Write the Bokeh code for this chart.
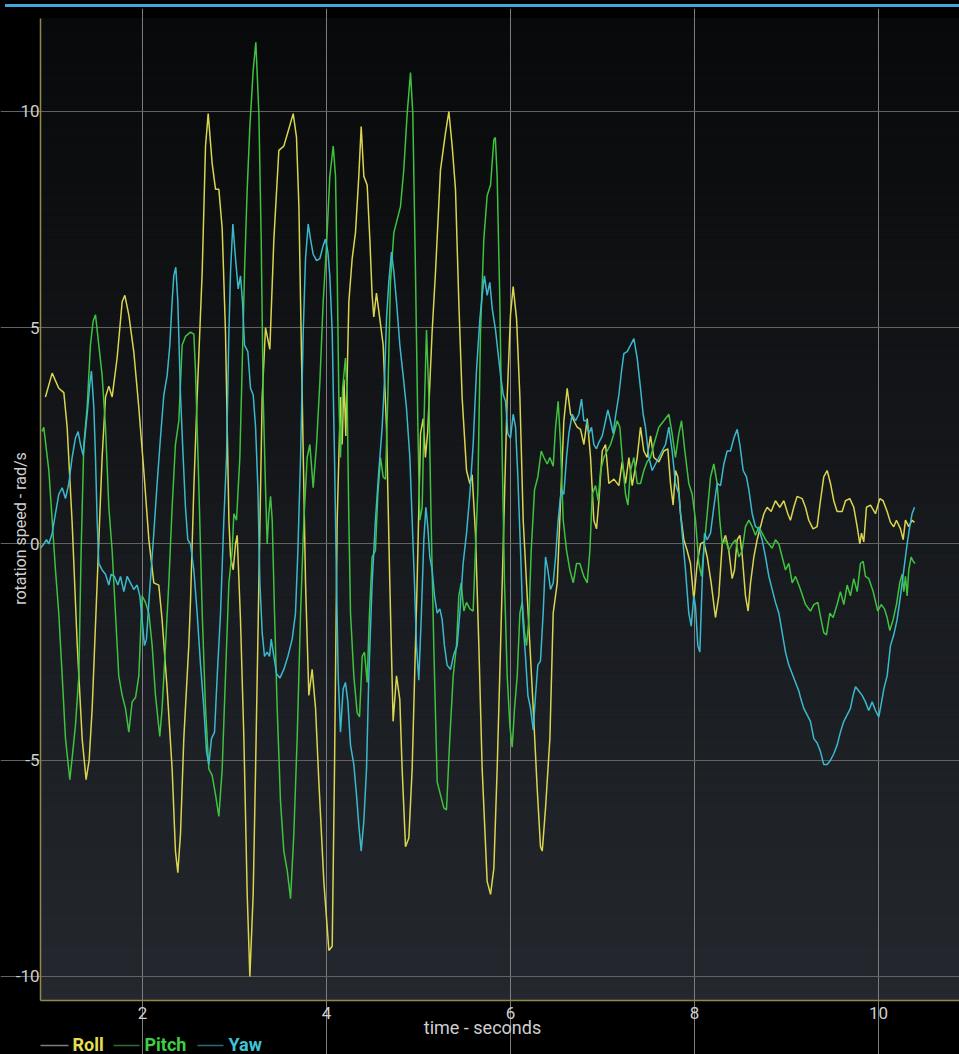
from bokeh.plotting import figure
from bokeh.models import Range1d, FixedTicker, Label, Div, LinearAxis
from bokeh.layouts import column
from bokeh.embed import file_html
from bokeh.resources import INLINE

# ---------------- data ----------------
series_names = ["Roll", "Pitch", "Yaw"]
x_ticks = [2, 4, 6, 8, 10]
y_ticks = [-10, -5, 0, 5, 10]
y_tick_labels = ["-10", "-5", "0", "5", "10"]
x_title = "time - seconds"
y_title = "rotation speed - rad/s"

roll_t = [0.945, 1.018, 1.09, 1.145, 1.181, 1.235, 1.29, 1.344, 1.387, 1.42, 1.453, 1.507, 1.561, 1.598, 1.634, 1.67,
          1.724, 1.779, 1.808, 1.851, 1.905, 1.96, 2.014, 2.069, 2.123, 2.177, 2.213, 2.268, 2.322, 2.358, 2.384, 2.413,
          2.449, 2.503, 2.522, 2.558, 2.594, 2.649, 2.685, 2.714, 2.757, 2.794, 2.83, 2.866, 2.902, 2.939, 2.957, 2.986,
          3.011, 3.029, 3.065, 3.102, 3.138, 3.167, 3.203, 3.229, 3.265, 3.301, 3.337, 3.384, 3.428, 3.482, 3.536, 3.591,
          3.638, 3.674, 3.7, 3.736, 3.772, 3.808, 3.844, 3.881, 3.917, 3.971, 4.026, 4.062, 4.087, 4.116, 4.152, 4.17,
          4.19, 4.21, 4.243, 4.279, 4.315, 4.351, 4.377, 4.406, 4.442, 4.471, 4.496, 4.514, 4.543, 4.58, 4.616, 4.652,
          4.688, 4.724, 4.761, 4.797, 4.822, 4.859, 4.895, 4.931, 4.985, 5.022, 5.051, 5.075, 5.1, 5.148, 5.185, 5.239,
          5.293, 5.33, 5.366, 5.402, 5.438, 5.474, 5.522, 5.558, 5.583, 5.619, 5.656, 5.692, 5.746, 5.783, 5.819, 5.855,
          5.892, 5.928, 5.964, 6.0, 6.029, 6.066, 6.102, 6.138, 6.174, 6.211, 6.247, 6.29, 6.326, 6.345, 6.381, 6.428,
          6.464, 6.508, 6.544, 6.58, 6.616, 6.653, 6.689, 6.725, 6.761, 6.798, 6.834, 6.87, 6.906, 6.935, 6.961, 6.997,
          7.033, 7.069, 7.124, 7.178, 7.214, 7.25, 7.287, 7.323, 7.377, 7.413, 7.449, 7.485, 7.522, 7.558, 7.612, 7.667,
          7.71, 7.739, 7.768, 7.793, 7.819, 7.848, 7.884, 7.92, 7.956, 7.993, 8.029, 8.065, 8.101, 8.138, 8.181, 8.228,
          8.264, 8.301, 8.337, 8.373, 8.409, 8.435, 8.464, 8.493, 8.518, 8.554, 8.583, 8.609, 8.645, 8.681, 8.717, 8.754,
          8.79, 8.833, 8.88, 8.927, 8.971, 9.014, 9.043, 9.079, 9.115, 9.17, 9.206, 9.242, 9.289, 9.333, 9.369, 9.405,
          9.442, 9.478, 9.514, 9.55, 9.605, 9.641, 9.688, 9.731, 9.768, 9.797, 9.815, 9.84, 9.869, 9.913, 9.967, 10.014,
          10.05, 10.094, 10.13, 10.166, 10.195, 10.239, 10.268, 10.293, 10.329, 10.365, 10.391]
roll_v = [3.4, 3.95, 3.6, 3.5, 2.7, 0.5, -2.3, -4.5, -5.45, -5.0, -3.8, -0.9, 2.0, 3.4, 3.65, 3.4,
          4.3, 5.6, 5.75, 5.3, 4.45, 3.15, 1.7, 0.1, -0.9, -0.95, -1.75, -3.35, -5.2, -7.1, -7.6, -6.7,
          -4.5, -2.35, -1.3, 1.3, 3.4, 6.3, 9.2, 9.95, 8.8, 8.2, 8.2, 7.3, 4.9, 0.55, -0.3, -0.6,
          0.0, 0.2, -1.75, -4.5, -8.1, -10.0, -8.1, -5.2, -0.9, 3.4, 5.0, 4.5, 7.05, 9.1, 9.2, 9.6,
          9.95, 9.4, 7.8, 3.4, -0.9, -3.5, -2.9, -3.8, -5.5, -7.8, -9.4, -9.3, -5.2, 0.55, 3.4, 2.3,
          3.8, 2.5, 5.6, 6.6, 7.2, 8.5, 9.65, 8.5, 8.3, 7.05, 5.75, 5.25, 5.8, 5.2, 4.6, 2.7,
          -0.9, -4.1, -3.05, -3.6, -5.2, -7.0, -6.8, -5.2, -0.9, 2.55, 2.9, 2.0, 2.6, 4.9, 6.3, 8.65,
          9.5, 10.0, 9.2, 8.2, 5.6, 3.4, 1.7, 1.4, 1.6, 0.25, -2.35, -5.2, -7.8, -8.1, -7.5, -5.2,
          -2.35, 0.55, 3.4, 5.3, 5.95, 5.2, 3.4, 0.55, -0.9, -2.35, -3.8, -5.65, -7.0, -7.1, -6.1, -4.5,
          -1.6, -0.9, 1.0, 2.85, 3.6, 3.0, 2.85, 2.7, 2.65, 2.3, 2.9, 2.0, 0.55, 0.35, 1.0, 2.15,
          2.3, 1.4, 1.5, 1.35, 1.9, 1.4, 2.0, 1.35, 2.0, 2.7, 2.15, 2.0, 2.5, 2.0, 1.9, 2.15,
          2.2, 1.4, 0.9, 1.7, 1.55, 0.7, 0.1, -0.15, -0.45, -1.3, -0.45, 0.0, 0.05, -0.3, -0.9, -1.7,
          -1.2, 0.0, 0.2, -0.15, -0.8, -0.6, 0.1, 0.2, -0.25, -1.2, -1.55, -0.9, -0.3, 0.1, 0.4, 0.7,
          0.85, 0.75, 1.0, 0.85, 1.0, 0.7, 0.55, 0.85, 1.1, 1.05, 0.85, 0.55, 0.35, 0.4, 1.0, 1.55,
          1.7, 1.4, 1.0, 0.75, 0.75, 1.0, 1.05, 0.85, 0.4, 0.0, 0.25, 0.05, 0.85, 0.9, 0.7, 1.05,
          1.0, 0.75, 0.5, 0.4, 0.55, 0.35, 0.1, 0.55, 0.4, 0.55, 0.5]

pitch_t = [0.909, 0.927, 0.982, 1.018, 1.054, 1.09, 1.127, 1.163, 1.21, 1.235, 1.271, 1.308, 1.333, 1.362, 1.398, 1.434,
           1.463, 1.489, 1.525, 1.561, 1.598, 1.634, 1.67, 1.706, 1.742, 1.779, 1.815, 1.851, 1.887, 1.924, 1.96, 1.996,
           2.032, 2.069, 2.105, 2.141, 2.188, 2.213, 2.25, 2.286, 2.322, 2.358, 2.395, 2.431, 2.467, 2.521, 2.558, 2.576,
           2.613, 2.649, 2.685, 2.721, 2.757, 2.794, 2.83, 2.866, 2.902, 2.939, 2.975, 2.993, 3.022, 3.058, 3.084, 3.109,
           3.138, 3.167, 3.203, 3.232, 3.265, 3.29, 3.312, 3.337, 3.355, 3.373, 3.392, 3.41, 3.435, 3.464, 3.5, 3.536,
           3.573, 3.609, 3.645, 3.681, 3.718, 3.754, 3.79, 3.819, 3.855, 3.892, 3.928, 3.964, 4.0, 4.036, 4.073, 4.098,
           4.116, 4.134, 4.152, 4.175, 4.206, 4.224, 4.243, 4.261, 4.297, 4.333, 4.359, 4.388, 4.413, 4.442, 4.467, 4.496,
           4.532, 4.558, 4.587, 4.616, 4.641, 4.667, 4.695, 4.732, 4.768, 4.804, 4.84, 4.877, 4.913, 4.938, 4.967, 4.993,
           5.014, 5.04, 5.058, 5.087, 5.112, 5.137, 5.166, 5.203, 5.239, 5.275, 5.304, 5.34, 5.377, 5.413, 5.438, 5.464,
           5.493, 5.522, 5.558, 5.594, 5.619, 5.645, 5.674, 5.71, 5.746, 5.783, 5.819, 5.835, 5.855, 5.884, 5.91, 5.935,
           5.964, 5.993, 6.018, 6.044, 6.073, 6.102, 6.127, 6.153, 6.174, 6.2, 6.225, 6.261, 6.297, 6.334, 6.363, 6.399,
           6.428, 6.464, 6.49, 6.518, 6.544, 6.573, 6.609, 6.645, 6.682, 6.718, 6.754, 6.797, 6.834, 6.863, 6.888, 6.924,
           6.953, 6.979, 7.015, 7.051, 7.087, 7.124, 7.16, 7.189, 7.214, 7.25, 7.276, 7.305, 7.341, 7.377, 7.413, 7.449,
           7.485, 7.522, 7.558, 7.612, 7.667, 7.721, 7.757, 7.793, 7.83, 7.859, 7.895, 7.938, 7.975, 8.011, 8.047, 8.076,
           8.101, 8.138, 8.174, 8.21, 8.246, 8.275, 8.301, 8.337, 8.373, 8.409, 8.446, 8.482, 8.518, 8.554, 8.591, 8.627,
           8.663, 8.699, 8.735, 8.772, 8.808, 8.844, 8.88, 8.917, 8.953, 8.989, 9.025, 9.062, 9.098, 9.134, 9.152, 9.206,
           9.26, 9.297, 9.34, 9.376, 9.405, 9.434, 9.471, 9.507, 9.55, 9.586, 9.623, 9.659, 9.695, 9.731, 9.768, 9.804,
           9.833, 9.858, 9.894, 9.942, 9.992, 10.029, 10.065, 10.094, 10.123, 10.159, 10.195, 10.231, 10.257, 10.275,
           10.293, 10.311, 10.329, 10.355, 10.376, 10.398]
pitch_v = [2.6, 2.7, 1.7, 0.55, -0.6, -1.6, -3.05, -4.5, -5.45, -4.95, -4.2, -3.05, -0.15, 2.3, 3.15, 4.6,
           5.15, 5.3, 4.6, 3.9, 2.7, 0.85, -0.15, -1.6, -3.05, -3.5, -3.8, -4.35, -3.65, -3.55, -3.05, -1.2,
           -1.35, -1.6, -2.35, -3.5, -4.45, -3.8, -2.35, -0.9, 0.85, 2.3, 2.85, 4.6, 4.8, 4.9, 4.85, 4.0,
           1.3, -1.6, -3.8, -5.2, -5.35, -5.8, -6.3, -5.2, -3.05, -0.9, -0.15, 0.7, 0.55, 2.0, 4.15, 6.3,
           8.2, 9.65, 10.95, 11.6, 9.95, 7.05, 3.4, 1.3, 0.0, 0.7, 1.1, 0.55, -1.6, -3.8, -5.95, -7.1,
           -7.55, -8.2, -6.7, -4.5, -1.6, 0.55, 2.0, 2.3, 1.3, 2.3, 3.75, 5.6, 6.9, 8.5, 9.2, 8.5,
           6.3, 3.4, 2.0, 3.6, 4.3, 3.45, 0.55, -1.6, -3.05, -3.9, -4.0, -2.6, -2.5, -3.2, -1.6, -0.3,
           -0.15, 1.15, 2.0, 1.55, 1.5, 3.45, 6.05, 7.2, 7.5, 7.8, 8.65, 9.95, 10.9, 9.95, 6.3, 2.7,
           0.55, 0.85, 2.7, 4.95, 3.45, 0.55, -2.35, -5.5, -5.8, -6.1, -6.15, -4.5, -3.05, -2.35, -1.2, -0.9,
           -1.55, -1.35, -1.5, -1.55, -0.15, 1.25, 4.9, 7.05, 8.05, 8.3, 9.35, 9.4, 8.5, 5.6, 2.0, -0.9,
           -3.05, -4.2, -4.7, -3.8, -3.05, -1.6, -1.35, -2.05, -2.35, -1.75, -0.15, 1.25, 1.55, 2.15, 2.0, 1.85,
           2.0, 1.8, 2.7, 3.3, 2.3, 0.55, -0.15, -0.6, -0.9, -0.45, -0.45, -0.75, -0.9, -0.15, 1.15, 1.35,
           1.0, 1.7, 2.0, 2.15, 2.3, 2.55, 2.85, 2.7, 2.0, 1.15, 0.9, 1.7, 2.0, 1.4, 1.4, 1.7,
           1.9, 2.0, 2.3, 2.7, 2.85, 3.0, 2.55, 2.0, 2.55, 2.85, 2.15, 1.4, 1.15, 0.55, -0.45, -0.75,
           -0.15, 0.7, 1.55, 1.85, 1.4, 0.55, 0.0, 0.1, -0.15, 0.0, 0.1, -0.3, -0.15, 0.4, 0.55, 0.4,
           0.2, 0.4, 0.25, 0.1, 0.0, -0.1, 0.1, 0.0, -0.3, -0.6, -0.45, -0.9, -0.75, -0.95, -1.05, -1.4,
           -1.55, -1.4, -1.35, -1.75, -2.05, -2.1, -1.6, -1.7, -1.4, -1.1, -1.4, -0.95, -1.2, -0.8, -1.1, -0.45,
           -0.4, -0.75, -0.8, -1.1, -1.55, -1.4, -1.5, -1.7, -2.0, -1.75, -1.4, -0.9, -0.7, -1.1,
           -0.75, -1.2, -0.6, -0.3, -0.4, -0.45]

yaw_t = [0.891, 0.927, 0.956, 0.982, 1.018, 1.054, 1.09, 1.127, 1.163, 1.199, 1.235, 1.271, 1.3, 1.326, 1.355, 1.38,
         1.405, 1.427, 1.445, 1.471, 1.489, 1.507, 1.525, 1.561, 1.598, 1.634, 1.659, 1.695, 1.732, 1.761, 1.797, 1.833,
         1.869, 1.905, 1.942, 1.971, 1.996, 2.021, 2.043, 2.069, 2.094, 2.123, 2.159, 2.195, 2.232, 2.268, 2.297, 2.322,
         2.34, 2.362, 2.384, 2.413, 2.442, 2.467, 2.492, 2.521, 2.558, 2.594, 2.631, 2.667, 2.696, 2.721, 2.75, 2.783,
         2.812, 2.848, 2.884, 2.913, 2.939, 2.957, 2.982, 3.011, 3.04, 3.065, 3.087, 3.109, 3.145, 3.174, 3.203, 3.229,
         3.254, 3.276, 3.301, 3.326, 3.355, 3.381, 3.399, 3.428, 3.457, 3.493, 3.536, 3.58, 3.627, 3.663, 3.689, 3.718,
         3.747, 3.772, 3.801, 3.826, 3.855, 3.892, 3.928, 3.964, 3.989, 4.015, 4.036, 4.062, 4.087, 4.109, 4.127, 4.152,
         4.181, 4.206, 4.232, 4.261, 4.297, 4.326, 4.351, 4.377, 4.406, 4.435, 4.46, 4.496, 4.532, 4.569, 4.605, 4.63,
         4.652, 4.677, 4.706, 4.732, 4.761, 4.797, 4.833, 4.869, 4.906, 4.931, 4.956, 4.978, 5.003, 5.029, 5.058, 5.08,
         5.101, 5.123, 5.148, 5.174, 5.203, 5.232, 5.257, 5.282, 5.311, 5.348, 5.384, 5.42, 5.449, 5.485, 5.522, 5.558,
         5.594, 5.63, 5.667, 5.692, 5.717, 5.746, 5.775, 5.801, 5.837, 5.863, 5.892, 5.921, 5.946, 5.971, 6.0, 6.029,
         6.055, 6.08, 6.109, 6.134, 6.163, 6.189, 6.218, 6.247, 6.272, 6.297, 6.326, 6.355, 6.381, 6.406, 6.435, 6.464,
         6.49, 6.518, 6.551, 6.58, 6.609, 6.634, 6.671, 6.707, 6.743, 6.772, 6.797, 6.826, 6.852, 6.881, 6.906, 6.935,
         6.961, 6.997, 7.033, 7.058, 7.087, 7.116, 7.145, 7.178, 7.207, 7.232, 7.268, 7.305, 7.341, 7.377, 7.413, 7.442,
         7.467, 7.504, 7.54, 7.576, 7.612, 7.648, 7.685, 7.721, 7.757, 7.793, 7.83, 7.866, 7.902, 7.938, 7.964, 7.993,
         8.011, 8.036, 8.058, 8.083, 8.109, 8.138, 8.174, 8.21, 8.246, 8.283, 8.319, 8.355, 8.391, 8.428, 8.464, 8.493,
         8.529, 8.565, 8.591, 8.627, 8.663, 8.699, 8.735, 8.772, 8.808, 8.844, 8.88, 8.917, 8.953, 8.989, 9.025, 9.062,
         9.098, 9.134, 9.152, 9.188, 9.224, 9.26, 9.297, 9.333, 9.369, 9.405, 9.442, 9.478, 9.514, 9.55, 9.586, 9.623,
         9.659, 9.695, 9.724, 9.75, 9.786, 9.822, 9.858, 9.894, 9.931, 9.967, 10.003, 10.029, 10.058, 10.094, 10.13,
         10.166, 10.202, 10.239, 10.275, 10.311, 10.34, 10.365, 10.391]
yaw_v = [-0.1, 0.0, 0.1, 0.0, 0.25, 0.7, 1.15, 1.3, 1.05, 1.4, 2.0, 2.45, 2.6, 2.3, 2.05, 2.6,
         3.15, 3.7, 4.0, 3.15, 2.0, 0.55, -0.45, -0.6, -0.7, -0.95, -0.7, -0.75, -0.95, -0.75, -1.1, -0.75,
         -0.9, -1.05, -0.95, -1.2, -1.75, -2.35, -2.2, -1.35, -0.6, 0.25, 1.4, 2.45, 3.45, 3.9, 4.6, 5.6,
         6.2, 6.4, 5.6, 3.45, 2.0, 0.85, 0.1, 0.0, -0.6, -1.6, -2.8, -3.8, -4.8, -5.1, -4.5, -4.35,
         -3.05, -1.6, 0.55, 2.0, 4.9, 6.3, 7.4, 6.6, 5.9, 6.2, 5.6, 4.6, 4.45, 3.6, 3.45, 2.7,
         1.3, -0.9, -2.05, -2.6, -2.5, -2.6, -2.2, -2.6, -3.0, -3.1, -2.9, -2.6, -2.2, -1.6, -0.15, 2.0,
         4.9, 6.6, 7.4, 7.05, 6.7, 6.55, 6.6, 6.9, 7.05, 6.75, 6.2, 4.9, 2.0, -0.9, -3.05, -4.35,
         -3.35, -3.2, -3.65, -4.65, -5.1, -5.8, -6.5, -7.1, -6.4, -5.2, -3.05, -0.9, 0.55, 1.7, 2.7, 3.75,
         5.2, 6.05, 6.75, 6.3, 5.6, 4.6, 3.9, 3.15, 2.0, 0.55, -0.9, -2.35, -3.15, -1.75, 0.1, 0.85,
         0.4, -0.3, -0.6, -1.2, -1.6, -1.5, -1.75, -2.35, -2.8, -2.9, -2.55, -2.35, -1.6, -0.45, 0.25, 1.15,
         2.3, 4.0, 5.2, 5.75, 6.2, 5.75, 6.05, 5.45, 4.95, 4.45, 3.9, 3.45, 3.3, 2.55, 2.45, 3.0,
         2.7, 1.55, -0.15, -1.75, -2.6, -3.5, -3.8, -4.3, -3.5, -2.8, -2.7, -1.6, -0.3, -0.6, -1.05, -0.9,
         -0.3, 0.55, 1.25, 1.15, 2.0, 2.55, 3.0, 2.85, 3.0, 3.35, 2.85, 2.85, 2.55, 2.7, 2.3, 2.2,
         2.35, 2.5, 2.85, 3.1, 2.85, 2.55, 3.0, 3.45, 4.0, 4.4, 4.45, 4.6, 4.75, 4.3, 3.6, 3.0,
         2.7, 2.0, 1.7, 1.85, 2.0, 2.15, 2.3, 2.7, 2.15, 1.4, 1.15, 0.25, -0.6, -1.6, -1.9, -1.2,
         -1.45, -2.35, -2.5, -0.9, 0.25, 0.1, 0.25, 0.85, 1.4, 1.35, 1.85, 2.15, 2.15, 2.45, 2.65, 2.3,
         1.7, 1.55, 1.25, 0.7, 0.4, 0.35, 0.1, -0.3, -0.75, -1.05, -1.35, -1.6, -2.05, -2.5, -2.8, -3.0,
         -3.2, -3.4, -3.55, -3.8, -3.95, -4.1, -4.5, -4.6, -4.8, -5.1, -5.1, -5.0, -4.85, -4.65, -4.35, -4.1,
         -3.95, -3.8, -3.5, -3.3, -3.4, -3.5, -3.65, -3.85, -3.65, -3.85, -4.0, -3.7, -3.35, -3.05, -2.35,
         -2.1, -1.75, -1.2, -0.6, 0.0, 0.4, 0.7, 0.85]

# ---------------- styling / layout ----------------
LINE_COLORS = ["#d9d54e", "#3fc23f", "#3bb9cc"]
LEGEND_TEXT_COLORS = ["#e4de50", "#3ecf45", "#3ec4d6"]
LEGEND_DASH_COLORS = ["#7e7e7e", "#2f6e34", "#2e6a78"]
TEXT_COLOR = "#cfcfcf"
FONT = "Roboto"

TOP_BAR_H = 8            # black strip + thin blue bar above the chart
FIG_W, FIG_H = 959, 1046

# data ranges spanning the whole canvas (the frame fills the figure)
X_LO, X_HI = 0.4565, 10.8804
Y_LO, Y_HI = -11.8035, 12.3815


def X(page_px):
    return X_LO + page_px * (X_HI - X_LO) / FIG_W


def Y(page_py):
    return Y_HI - (page_py - TOP_BAR_H) * (Y_HI - Y_LO) / FIG_H


# plotting area edges in page pixels
PL, PT, PB = 40, 18, 1000
XL, YT, YB = X(PL), Y(PT), Y(PB)

p = figure(width=FIG_W, height=FIG_H, output_backend="svg", toolbar_location=None,
           x_range=Range1d(X_LO, X_HI), y_range=Range1d(Y_LO, Y_HI),
           x_axis_location=None, y_axis_location=None,
           min_border=0, min_border_left=0, min_border_right=0,
           min_border_top=0, min_border_bottom=0,
           background_fill_color="#000000", border_fill_color="#000000",
           outline_line_color=None)

# vertical gradient background of the plotting area
n_bands = 90
top_rgb = (8, 9, 10)
bot_rgb = (36, 40, 46)
bands_b, bands_t, bands_c = [], [], []
for i in range(n_bands):
    b = YB + (YT - YB) * i / n_bands
    t = YB + (YT - YB) * (i + 1) / n_bands
    f = (i + 0.5) / n_bands
    rgb = tuple(int(round(bot_rgb[k] + (top_rgb[k] - bot_rgb[k]) * f)) for k in range(3))
    bands_b.append(b)
    bands_t.append(t)
    bands_c.append("#%02x%02x%02x" % rgb)
bg = p.quad(left=XL, right=X_HI, bottom=bands_b, top=bands_t, fill_color=bands_c,
            line_color=bands_c, line_width=1)
bg.level = "image"

# grid
p.xgrid.ticker = FixedTicker(ticks=x_ticks)
p.ygrid.ticker = FixedTicker(ticks=y_ticks)
p.xgrid.bounds = (Y(1006), YT)
p.ygrid.bounds = (XL, X_HI)
p.xgrid.grid_line_color = "#7c7c7c"
p.ygrid.grid_line_color = "#626262"
p.xgrid.grid_line_width = 1
p.ygrid.grid_line_width = 1

# axes fixed at the plotting area's edges
xaxis = LinearAxis(fixed_location=YB, ticker=FixedTicker(ticks=x_ticks), bounds=(XL, X_HI))
xaxis.axis_line_color = "#8f8a48"
xaxis.axis_line_width = 1.5
xaxis.major_tick_line_color = "#7c7c7c"
xaxis.major_tick_out = 6
xaxis.major_tick_in = 0
xaxis.minor_tick_line_color = None
xaxis.major_label_text_color = TEXT_COLOR
xaxis.major_label_text_font = FONT
xaxis.major_label_text_font_size = "17px"
xaxis.major_label_standoff = 0
p.add_layout(xaxis, "below")

yaxis = LinearAxis(fixed_location=XL, ticker=FixedTicker(ticks=[]), bounds=(YB, YT))
yaxis.axis_line_color = "#8f8a48"
yaxis.axis_line_width = 1.5
yaxis.major_tick_line_color = None
yaxis.minor_tick_line_color = None
p.add_layout(yaxis, "left")

# series
for name, tt, vv, col in zip(series_names, [roll_t, pitch_t, yaw_t], [roll_v, pitch_v, yaw_v], LINE_COLORS):
    p.line(tt, vv, line_color=col, line_width=1.5)

# y tick labels sitting on top of their grid lines
for tv, lbl in zip(y_ticks, y_tick_labels):
    p.add_layout(Label(x=X(39), y=tv, text=lbl, text_align="right",
                       text_baseline="alphabetic", text_color=TEXT_COLOR,
                       text_font=FONT, text_font_size="17px"))

# axis titles
p.add_layout(Label(x=X(482), y=Y(1027), text=x_title, text_align="center",
                   text_baseline="middle", text_color=TEXT_COLOR, text_font=FONT,
                   text_font_size="18px"))
p.add_layout(Label(x=X(20), y=Y(528), text=y_title, angle=1.5708, text_align="center",
                   text_baseline="middle", text_color=TEXT_COLOR, text_font=FONT,
                   text_font_size="16px"))

# legend: dim dash + coloured name
dash_px = [(40, 68), (113, 139), (197, 223)]
name_px = [72, 144, 228]
LEG_Y = 1044
p.segment(x0=[X(a) for a, b in dash_px], x1=[X(b) for a, b in dash_px],
          y0=Y(LEG_Y + 1), y1=Y(LEG_Y + 1), line_color=LEGEND_DASH_COLORS, line_width=1.3)
for nx, name, tcol in zip(name_px, series_names, LEGEND_TEXT_COLORS):
    p.add_layout(Label(x=X(nx), y=Y(LEG_Y), text=name, text_align="left",
                       text_baseline="middle", text_color=tcol, text_font=FONT,
                       text_font_size="18px", text_font_style="bold"))

top_bar = Div(text="", width=FIG_W - 5, height=TOP_BAR_H, margin=(0, 0, 0, 5),
              styles={"background": "linear-gradient(to bottom, #000000 0px, #000000 4px, "
                                    "#42a7da 4px, #42a7da 7px, #000000 7px, #000000 8px)"})
layout = column(top_bar, p, spacing=0)

html = file_html(layout, INLINE, title="rotation speed")
html = html.replace("</head>", "<style>html, body { background: #000000; }</style></head>", 1)
open("out.html", "w").write(html)
